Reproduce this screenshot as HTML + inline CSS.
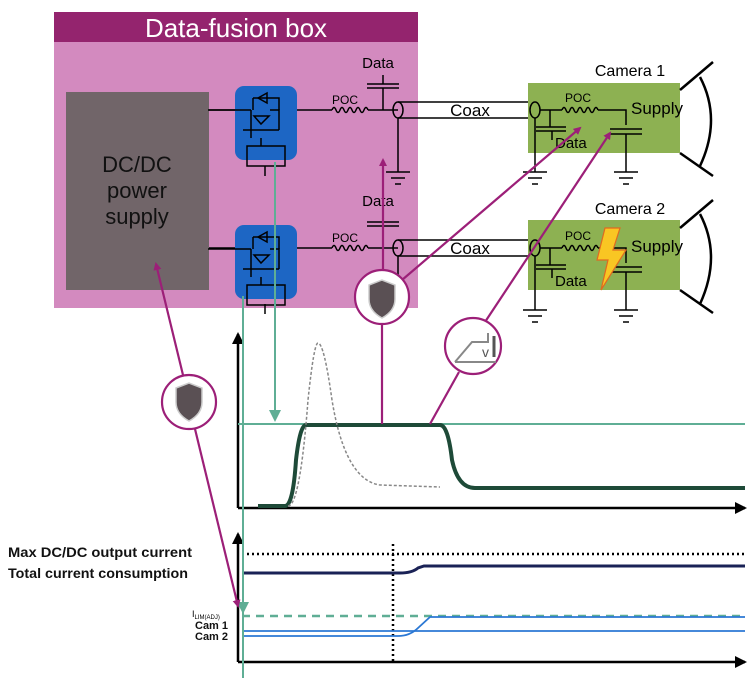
<!DOCTYPE html>
<html><head><style>body{margin:0;background:#fff}svg{display:block}</style></head><body>
<svg width="752" height="678" viewBox="0 0 752 678" xmlns="http://www.w3.org/2000/svg" font-family="Liberation Sans, sans-serif">
<defs>
<marker id="am" markerWidth="8" markerHeight="8" refX="6" refY="4" orient="auto" markerUnits="userSpaceOnUse"><path d="M0,0L8,4L0,8z" fill="#9c1f78"/></marker>
<marker id="at" markerWidth="12" markerHeight="12" refX="10" refY="6" orient="auto" markerUnits="userSpaceOnUse"><path d="M0,0L12,6L0,12z" fill="#5fae95"/></marker>
<marker id="ak" markerWidth="12" markerHeight="12" refX="10" refY="6" orient="auto" markerUnits="userSpaceOnUse"><path d="M0,0L12,6L0,12z" fill="#000"/></marker>
<g id="sw"><rect x="0" y="0" width="62" height="74" rx="9" fill="#1d66c4"/>
<g stroke="#000" stroke-width="1.5" fill="none"><path d="M-27,24H16M16,24V44M8,44H44M44,44V24H35M16,44V52M26,52V60M8,44H44"/><path d="M18,12V24M18,12H44V24"/><path d="M23,12L32,7V17z"/><path d="M19,30H34L26,38z"/><rect x="12" y="60" width="38" height="20"/></g></g>
<g id="shield"><path d="M-13,-14L0,-19L13,-14V0Q13,12 0,19Q-13,12 -13,0z" fill="#5a5054" stroke="#ccc" stroke-width="1.5"/></g>
<g id="gnd" stroke="#000" stroke-width="1.5"><path d="M-12,0H12M-7,6H7M-3,12H3"/></g>
</defs>
<rect x="54" y="12" width="364" height="296" fill="#d38abf"/>
<rect x="54" y="12" width="364" height="30" fill="#94246e"/>
<text x="236" y="37" font-size="26" fill="#fff" text-anchor="middle">Data-fusion box</text>
<rect x="66" y="92" width="143" height="198" fill="#716569"/>
<text x="137" y="172" font-size="22" text-anchor="middle" fill="#111">DC/DC</text>
<text x="137" y="198" font-size="22" text-anchor="middle" fill="#111">power</text>
<text x="137" y="224" font-size="22" text-anchor="middle" fill="#111">supply</text>
<use href="#sw" x="235" y="86"/><use href="#sw" x="235" y="225"/>
<g stroke="#000" stroke-width="1.5" fill="none">
<path d="M209,110H235M209,248H235M265,166V176M265,304V314"/>
<path d="M297,110H332M368,110H398M297,248H332M368,248H398"/>
<path d="M332,110q2,-5 4,0q2,5 4,0q2,-5 4,0q2,5 4,0q2,-5 4,0q2,5 4,0q2,-5 4,0q2,5 4,0q2,-5 4,0"/>
<path d="M332,248q2,-5 4,0q2,5 4,0q2,-5 4,0q2,5 4,0q2,-5 4,0q2,5 4,0q2,-5 4,0q2,5 4,0q2,-5 4,0"/>
<path d="M383,110V88M367,88H399M367,84H399M383,84V75"/>
<path d="M383,248V226M367,226H399M367,222H399"/>
<ellipse cx="398" cy="110" rx="5" ry="8"/><ellipse cx="398" cy="248" rx="5" ry="8"/>
<path d="M398,102H534M398,118H534M398,240H534M398,256H534"/>
<path d="M398,118V172M398,256V305"/>
</g>
<use href="#gnd" x="398" y="172"/>
<text x="378" y="68" font-size="15" text-anchor="middle">Data</text>
<text x="378" y="206" font-size="15" text-anchor="middle">Data</text>
<text x="345" y="104" font-size="12" text-anchor="middle">POC</text>
<text x="345" y="242" font-size="12" text-anchor="middle">POC</text>
<text x="470" y="116" font-size="17" text-anchor="middle">Coax</text>
<text x="470" y="254" font-size="17" text-anchor="middle">Coax</text>
<g>
<rect x="528" y="83" width="152" height="70" fill="#8db152"/>
<rect x="528" y="220" width="152" height="70" fill="#8db152"/>
<text x="630" y="76" font-size="16" text-anchor="middle">Camera 1</text>
<text x="630" y="214" font-size="16" text-anchor="middle">Camera 2</text>
<g stroke="#000" stroke-width="2.5" fill="none">
<path d="M680,90L713,62M680,153L713,176M700,77Q722,119 700,166"/>
<path d="M680,228L713,200M680,290L713,313M700,214Q722,256 700,304"/>
</g>
<g stroke="#000" stroke-width="1.5" fill="none">
<ellipse cx="535" cy="110" rx="5" ry="8"/><ellipse cx="535" cy="248" rx="5" ry="8"/>
<path d="M540,110H562M598,110H626V125M610,129H642M610,134H642M626,134V172"/>
<path d="M562,110q2,-5 4,0q2,5 4,0q2,-5 4,0q2,5 4,0q2,-5 4,0q2,5 4,0q2,-5 4,0q2,5 4,0q2,-5 4,0"/>
<path d="M550,110V127M536,127H566M536,131H566M552,131V140M535,118V172"/>
<path d="M540,248H562M598,248H626V263M610,267H642M610,272H642M626,272V310"/>
<path d="M562,248q2,-5 4,0q2,5 4,0q2,-5 4,0q2,5 4,0q2,-5 4,0q2,5 4,0q2,-5 4,0q2,5 4,0q2,-5 4,0"/>
<path d="M550,248V265M536,265H566M536,269H566M552,269V278M535,256V310"/>
</g>
<use href="#gnd" x="535" y="172"/><use href="#gnd" x="626" y="172"/>
<use href="#gnd" x="535" y="310"/><use href="#gnd" x="626" y="310"/>
<text x="578" y="102" font-size="12" text-anchor="middle">POC</text>
<text x="578" y="240" font-size="12" text-anchor="middle">POC</text>
<text x="631" y="114" font-size="17">Supply</text>
<text x="631" y="252" font-size="17">Supply</text>
<text x="555" y="148" font-size="15">Data</text>
<text x="555" y="286" font-size="15">Data</text>
<path d="M605,228H620L613,250H626L601,290L608,260H597z" fill="#f9c623" stroke="#e06a20" stroke-width="1.2"/>
</g>
<g fill="none">
<path d="M238,508V334" stroke="#000" stroke-width="2.5" marker-end="url(#ak)"/>
<path d="M238,508H745" stroke="#000" stroke-width="2.5" marker-end="url(#ak)"/>
<path d="M238,424H745" stroke="#5fae95" stroke-width="2"/>
<path d="M258,506L285,506Q293,506 296,460Q300,425 306,425L440,425Q448,425 452,460Q458,488 475,488L745,488" stroke="#1e4a38" stroke-width="4"/>
<path d="M288,506Q300,506 308,400Q314,343 318,343Q324,343 332,400Q345,480 380,485L440,487" stroke="#888" stroke-width="1.5" stroke-dasharray="3,2"/>
</g>
<g fill="none">
<path d="M238,662V534" stroke="#000" stroke-width="2.5" marker-end="url(#ak)"/>
<path d="M238,662H745" stroke="#000" stroke-width="2.5" marker-end="url(#ak)"/>
<path d="M242,554H745" stroke="#000" stroke-width="2.5" stroke-dasharray="2,3"/>
<path d="M393,544V662" stroke="#000" stroke-width="2.5" stroke-dasharray="2,3"/>
<path d="M243,573H400Q412,573 418,568L424,566H745" stroke="#1a2256" stroke-width="3"/>
<path d="M242,616H745" stroke="#5fae95" stroke-width="2.5" stroke-dasharray="8,6"/>
<path d="M243,631H745" stroke="#2b78d4" stroke-width="1.8"/>
<path d="M243,636H398Q410,636 418,628L430,617H745" stroke="#2b78d4" stroke-width="1.8"/>
</g>
<g font-size="14" font-weight="bold" fill="#111">
<text x="8" y="557" textLength="184" lengthAdjust="spacingAndGlyphs">Max DC/DC output current</text>
<text x="8" y="578" textLength="180" lengthAdjust="spacingAndGlyphs">Total current consumption</text>
<text x="195" y="629" font-size="11">Cam 1</text>
<text x="195" y="640" font-size="11">Cam 2</text>
</g>
<text x="192" y="617" font-size="9">I<tspan font-size="6" dy="2">LIM(ADJ)</tspan></text>
<path d="M243,296V678" stroke="#5fae95" stroke-width="2" fill="none"/>
<path d="M243,600V612" stroke="#5fae95" stroke-width="2" marker-end="url(#at)"/>
<path d="M275,162V420" stroke="#5fae95" stroke-width="2" marker-end="url(#at)"/>
<g stroke="#9c1f78" stroke-width="2.2" fill="none">
<path d="M183,375L156,264" marker-end="url(#am)"/>
<path d="M195,429L238,606" marker-end="url(#am)"/>
<path d="M383,270V160" marker-end="url(#am)"/>
<path d="M382,324V424"/>
<path d="M402,280L580,128" marker-end="url(#am)"/>
<path d="M485,322L610,133" marker-end="url(#am)"/>
<path d="M459,372L430,424"/>
</g>
<g stroke="#9c1f78" stroke-width="2.2" fill="#fff">
<circle cx="189" cy="402" r="27"/>
<circle cx="382" cy="297" r="27"/>
<circle cx="473" cy="346" r="28"/>
</g>
<use href="#shield" x="189" y="402"/>
<use href="#shield" x="382" y="299"/>
<path d="M455,362L472,342H488V333" stroke="#888" stroke-width="2" fill="none"/>
<path d="M455,362H496" stroke="#888" stroke-width="2"/>
<text x="482" y="357" font-size="14" fill="#555">v</text>
<path d="M494,357V336" stroke="#555" stroke-width="3"/>
</svg>
</body></html>
